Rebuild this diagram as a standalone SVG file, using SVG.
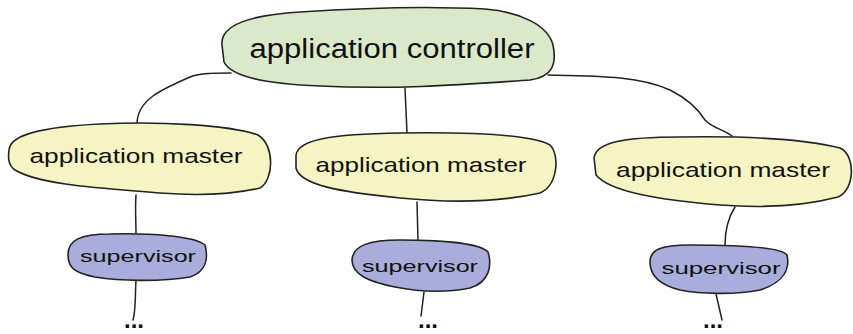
<svg xmlns="http://www.w3.org/2000/svg" width="853" height="334" viewBox="0 0 853 334">
<style>
.blob{stroke:#222;stroke-width:1.6;stroke-linejoin:round}
.ctrl{fill:#dbe9cb}
.mst{fill:#f6f4c2}
.sup{fill:#a9addb}
.lbl{font-family:"Liberation Sans",Arial,sans-serif;fill:#111;text-anchor:middle}
.conn{fill:none;stroke:#222;stroke-width:1.5;stroke-linecap:round}
.dots{font-family:"Liberation Sans",Arial,sans-serif;font-weight:bold;font-size:24px;fill:#111;text-anchor:middle}
</style>
<rect width="853" height="334" fill="#fff"/>
<g id="connectors">
<path class="conn" d="M231 73 C215 73,200 73,190 77 C160 90,138 100,137 123"/>
<path class="conn" d="M405 88 L407 133"/>
<path class="conn" d="M548 75 C600 76,640 76,670 90 C690 100,700 112,705 120 C712 128,725 130,732 136"/>
<path class="conn" d="M136 195 C135 210,136 222,136 233"/>
<path class="conn" d="M417 202 L418 240"/>
<path class="conn" d="M735 207 C728 218,725 230,725 245"/>
<path class="conn" d="M136 280 C135 295,136 310,133 320"/>
<path class="conn" d="M424 292 L421 316"/>
<path class="conn" d="M716 294 L722 320"/>
</g>
<g id="controller">
<path class="blob ctrl" d="M222 45 C220 25,250 15,300 12 C360 8,430 6,485 9 C520 12,548 25,553 45 C557 65,552 77,530 80 C470 84,400 90,320 86 C270 84,232 78,224 62 Z"/>
<text class="lbl" x="392" y="58" font-size="27" textLength="285" lengthAdjust="spacingAndGlyphs">application controller</text>
</g>
<g id="master1">
<path class="blob mst" d="M9 150 C10 135,40 127,100 124 C160 121,230 125,258 135 C275 145,274 180,260 188 C230 195,200 196,160 193 C100 188,40 185,15 170 C8 165,8 158,9 150 Z"/>
<text class="lbl" x="136" y="163" font-size="21" textLength="213" lengthAdjust="spacingAndGlyphs">application master</text>
</g>
<g id="master2">
<path class="blob mst" d="M296 155 C298 140,330 134,400 133 C470 132,530 134,550 145 C560 155,558 185,540 193 C500 202,450 203,400 198 C340 192,300 185,296 168 Z"/>
<text class="lbl" x="421" y="172" font-size="21" textLength="211" lengthAdjust="spacingAndGlyphs">application master</text>
</g>
<g id="master3">
<path class="blob mst" d="M594 158 C596 142,625 137,680 137 C740 136,800 138,840 148 C856 155,855 190,838 197 C800 207,760 208,720 205 C660 200,610 192,596 175 Z"/>
<text class="lbl" x="723" y="177" font-size="21" textLength="214" lengthAdjust="spacingAndGlyphs">application master</text>
</g>
<g id="supervisor1">
<path class="blob sup" d="M68 255 C68 240,80 234,110 234 C150 233,195 236,205 245 C209 260,205 272,190 277 C160 282,120 281,95 277 C75 273,68 268,68 255 Z"/>
<text class="lbl" x="138" y="262" font-size="17" textLength="116" lengthAdjust="spacingAndGlyphs">supervisor</text>
</g>
<g id="supervisor2">
<path class="blob sup" d="M352 260 C353 245,370 240,400 240 C440 240,480 243,488 252 C492 265,490 282,470 288 C445 293,420 292,395 287 C370 282,352 275,352 260 Z"/>
<text class="lbl" x="420" y="272" font-size="17" textLength="116" lengthAdjust="spacingAndGlyphs">supervisor</text>
</g>
<g id="supervisor3">
<path class="blob sup" d="M650 262 C650 250,660 245,690 245 C730 245,780 246,787 255 C790 268,785 282,760 290 C735 295,700 294,680 290 C660 285,650 275,650 262 Z"/>
<text class="lbl" x="721" y="274" font-size="17" textLength="119" lengthAdjust="spacingAndGlyphs">supervisor</text>
</g>
<g id="more1"><text class="dots" x="134" y="328">...</text></g>
<g id="more2"><text class="dots" x="428" y="328">...</text></g>
<g id="more3"><text class="dots" x="713" y="328">...</text></g>
</svg>
